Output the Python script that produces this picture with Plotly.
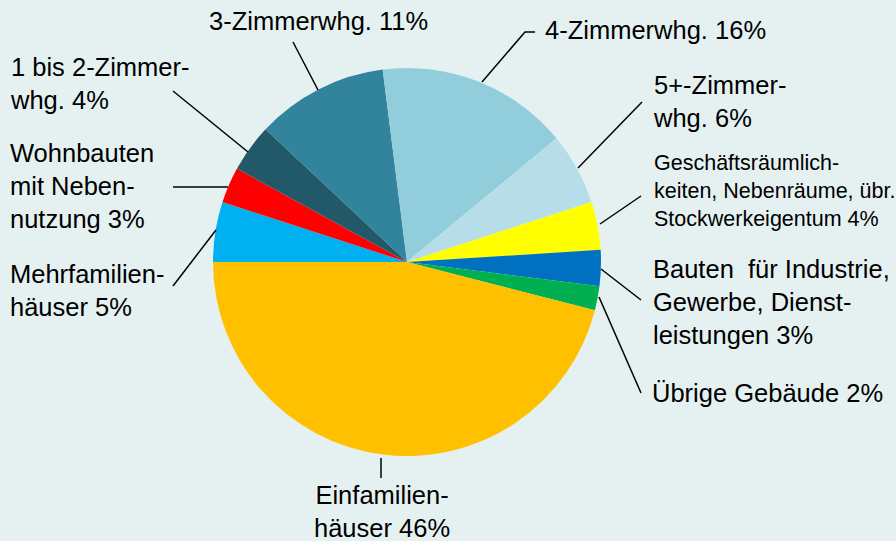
import plotly.graph_objects as go

W, H = 896, 541

# slices listed clockwise starting at 9 o'clock
labels = ["Mehrfamilienhäuser", "Wohnbauten mit Nebennutzung", "1 bis 2-Zimmerwhg.",
          "3-Zimmerwhg.", "4-Zimmerwhg.", "5+-Zimmerwhg.",
          "Geschäftsräumlichkeiten, Nebenräume, übr. Stockwerkeigentum",
          "Bauten für Industrie, Gewerbe, Dienstleistungen", "Übrige Gebäude",
          "Einfamilienhäuser"]
values = [5, 3, 4, 11, 16, 6, 4, 3, 2, 46]
colors = ["#00B0F0", "#FF0000", "#215968", "#31849B", "#92CDDC", "#B7DEE8",
          "#FFFF00", "#0070C0", "#00B050", "#FFC000"]

label_texts = ["Mehrfamilien-<br>häuser 5%", "Wohnbauten<br>mit Neben-<br>nutzung 3%",
               "1 bis 2-Zimmer-<br>whg. 4%", "3-Zimmerwhg. 11%", "4-Zimmerwhg. 16%",
               "5+-Zimmer-<br>whg. 6%",
               "Geschäftsräumlich-<br>keiten, Nebenräume, übr.<br>Stockwerkeigentum 4%",
               "Bauten  für Industrie,<br>Gewerbe, Dienst-<br>leistungen 3%",
               "Übrige Gebäude 2%", "Einfamilien-<br>häuser 46%"]

# label placement in pixels: (x, y, xanchor, size)
BIG, SMALL = 25.5, 21.5
label_pos = [(8, 290, "left", BIG), (8, 186, "left", BIG), (8, 84, "left", BIG),
             (207, 21, "left", BIG), (543, 30, "left", BIG), (651, 102, "left", BIG),
             (652, 191, "left", SMALL), (651, 302, "left", BIG), (650, 393, "left", BIG),
             (382, 511, "center", BIG)]

# leader lines in pixels
leaders = [[(216, 230), (173, 286)], [(228, 187), (173, 187)], [(248, 152), (173, 91)],
           [(318, 90), (293, 42)], [(482, 82), (525, 32), (535, 32)],
           [(578, 168), (642, 102)], [(600, 224), (641, 196)],
           [(601, 269), (641, 300)], [(599, 297), (641, 393)], [(381, 458), (381, 478)]]

def px(x, y):
    return x / W, 1 - y / H

cx, cy, r = 407, 262, 194
BG = "#E5F1F1"

fig = go.Figure(go.Pie(
    labels=labels, values=values, sort=False, direction="clockwise",
    rotation=270, marker=dict(colors=colors, line=dict(width=0)),
    textinfo="none", hoverinfo="label+percent", showlegend=False,
    domain=dict(x=[(cx - r) / W, (cx + r) / W], y=[1 - (cy + r) / H, 1 - (cy - r) / H]),
))

font_family = "Liberation Sans, Arial, sans-serif"
for txt, (x, y, xa, s) in zip(label_texts, label_pos):
    xx, yy = px(x, y)
    fig.add_annotation(x=xx, y=yy, xref="paper", yref="paper", text=txt, showarrow=False,
                       xanchor=xa, yanchor="middle", align=xa,
                       font=dict(family=font_family, size=s, color="black"))

for pts in leaders:
    path = ""
    for i, (x, y) in enumerate(pts):
        xx, yy = px(x, y)
        path += ("M" if i == 0 else "L") + f"{xx},{yy} "
    fig.add_shape(type="path", path=path.strip(), xref="paper", yref="paper",
                  line=dict(color="black", width=1.5))

fig.update_layout(width=W, height=H, margin=dict(l=0, r=0, t=0, b=0),
                  paper_bgcolor=BG, plot_bgcolor=BG)

fig.write_html("out.html", config={"displayModeBar": False},
               post_script=f"document.body.style.margin='0';document.body.style.background='{BG}';")
